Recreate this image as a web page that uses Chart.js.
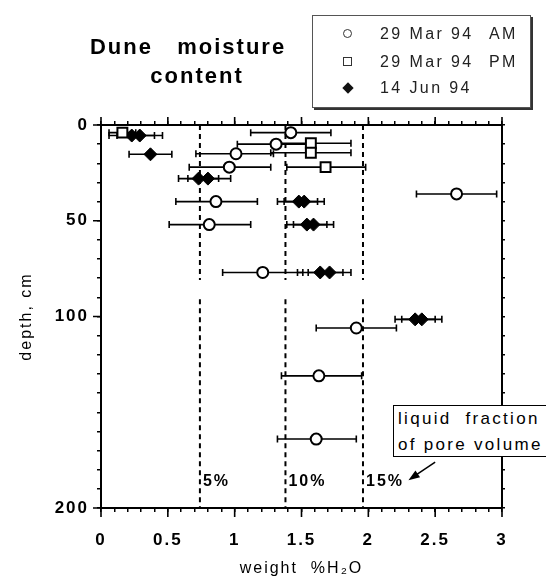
<!DOCTYPE html>
<html>
<head>
<meta charset="utf-8">
<script src="https://cdn.jsdelivr.net/npm/chart.js@4.4.1/dist/chart.umd.min.js"></script>
<style>
  html, body { margin: 0; padding: 0; background: #fff; }
  #wrap { position: relative; width: 546px; height: 579px; overflow: hidden; font-family: "Liberation Sans", Arial, sans-serif; color: #000; }
  #chart { position: absolute; left: 0; top: 0; }
  .title { position: absolute; font-weight: bold; font-size: 22px; letter-spacing: 2px; white-space: pre; transform: translate(-50%, -50%); }
  #legend { position: absolute; left: 312px; top: 15px; width: 217px; height: 91px; border: 1px solid #555; box-shadow: 2px 2px 0 #333; background: #fff; font-size: 16px; letter-spacing: 2.4px; color: #222; }
  #legend .row { position: absolute; left: 0; width: 100%; height: 20px; line-height: 20px; }
  #legend .txt { position: absolute; left: 67px; top: 0; white-space: pre; }
  #legend .ampm { position: absolute; left: 176px; top: 0; }
  .sym { position: absolute; left: 30px; top: 5px; width: 9px; height: 9px; box-sizing: border-box; }
  .sym.circle { border: 1.8px solid #333; border-radius: 50%; }
  .sym.square { border: 1.6px solid #333; }
  .sym.diamond { background: #111; transform: rotate(45deg); left: 31px; top: 6px; width: 8px; height: 8px; }
  #note { position: absolute; left: 393px; top: 405px; width: 170px; height: 50px; border: 1.6px solid #000; background: #fff; font-size: 17px; letter-spacing: 2.3px; line-height: 26px; padding-left: 4px; white-space: pre; }
</style>
</head>
<body>
<div id="wrap">
  <canvas id="chart" width="546" height="579"></canvas>
  <div class="title" style="left:188px; top:47px;">Dune   moisture</div>
  <div class="title" style="left:197px; top:76px;">content</div>
  <div id="legend">
    <div class="row" style="top:8px;"><span class="sym circle"></span><span class="txt">29 Mar 94</span><span class="ampm">AM</span></div>
    <div class="row" style="top:36px;"><span class="sym square"></span><span class="txt">29 Mar 94</span><span class="ampm">PM</span></div>
    <div class="row" style="top:62px;"><span class="sym diamond"></span><span class="txt">14 Jun 94</span></div>
  </div>
  <div id="note">liquid  fraction
of pore volume</div>
</div>
<script>
// 29 Mar 94 AM (open circles)
const amX = [1.42, 1.31, 1.01, 0.96, 2.66, 0.86, 0.81, 1.21, 1.91, 1.63, 1.61];
const amDepth = [4, 10, 15, 22, 36, 40, 52, 77, 106, 131, 164];
const amLo = [1.12, 1.02, 0.71, 0.66, 2.36, 0.56, 0.51, 0.91, 1.61, 1.35, 1.32];
const amHi = [1.72, 1.60, 1.29, 1.27, 2.96, 1.17, 1.12, 1.51, 2.21, 1.95, 1.91];

// 29 Mar 94 PM (open squares)
const pmX = [0.16, 1.57, 1.57, 1.68];
const pmDepth = [4, 9.5, 14.5, 22];
const pmLo = [0.06, 1.29, 1.27, 1.39];
const pmHi = [0.26, 1.87, 1.87, 1.98];

// 14 Jun 94 (filled diamonds)
const junX = [0.23, 0.29, 0.37, 0.73, 0.80, 1.48, 1.52, 1.54, 1.59, 1.64, 1.71, 2.35, 2.40];
const junDepth = [5.5, 5.5, 15.3, 28, 28, 40, 40, 52, 52, 77, 77, 101.5, 101.5];
const junLo = [0.06, 0.12, 0.21, 0.58, 0.65, 1.32, 1.37, 1.39, 1.44, 1.47, 1.55, 2.20, 2.25];
const junHi = [0.40, 0.46, 0.53, 0.88, 0.97, 1.62, 1.67, 1.69, 1.74, 1.81, 1.87, 2.50, 2.55];

// liquid fraction of pore volume lines
const poreX = [0.74, 1.38, 1.96];
const poreLabels = ["5%", "10%", "15%"];

const xLabelTicks = [0, 0.5, 1, 1.5, 2, 2.5, 3];
const depthLabelTicks = [0, 50, 100, 200];

const FONT = "'Liberation Sans', Arial, sans-serif";

function pts(xs, ys) {
    return xs.map((v, i) => ({ x: v, y: ys[i] }));
}

// 破線（途中に切れ目あり）
const poreSets = poreX.map((v) => ({
    type: "line",
    data: [{ x: v, y: 0 }, { x: v, y: 81 }, { x: v, y: null }, { x: v, y: 91 }, { x: v, y: 200 }],
    borderColor: "#000",
    borderWidth: 2,
    borderDash: [5, 4],
    pointRadius: 0,
    spanGaps: false,
}));

const errorBars = {
    id: "errorBars",
    beforeDatasetsDraw(chart) {
        const { ctx, scales } = chart;
        ctx.save();
        ctx.strokeStyle = "#000";
        ctx.lineWidth = 1.6;
        chart.data.datasets.forEach((ds) => {
            if (!ds.errLo) return;
            ds.data.forEach((p, i) => {
                const py = scales.y.getPixelForValue(p.y);
                const x1 = scales.x.getPixelForValue(ds.errLo[i]);
                const x2 = scales.x.getPixelForValue(ds.errHi[i]);
                ctx.beginPath();
                ctx.moveTo(x1, py);
                ctx.lineTo(x2, py);
                ctx.moveTo(x1, py - 3.5);
                ctx.lineTo(x1, py + 3.5);
                ctx.moveTo(x2, py - 3.5);
                ctx.lineTo(x2, py + 3.5);
                ctx.stroke();
            });
        });
        ctx.restore();
    },
};

const extras = {
    id: "extras",
    beforeDraw(chart) {
        chart.ctx.letterSpacing = "2px";
    },
    afterDraw(chart) {
        const { ctx, chartArea: a, scales } = chart;
        ctx.save();
        ctx.strokeStyle = "#000";
        ctx.lineWidth = 1.6;
        ctx.beginPath();
        // 長い目盛り
        xLabelTicks.forEach((v) => {
            const px = scales.x.getPixelForValue(v);
            ctx.moveTo(px, a.bottom);
            ctx.lineTo(px, a.bottom + 9);
            ctx.moveTo(px, a.top);
            ctx.lineTo(px, a.top - 8);
        });
        depthLabelTicks.forEach((v) => {
            const py = scales.y.getPixelForValue(v);
            ctx.moveTo(a.left, py);
            ctx.lineTo(a.left - 8, py);
        });
        ctx.stroke();

        // 5% / 10% / 15%
        ctx.fillStyle = "#000";
        ctx.font = "bold 16px " + FONT;
        ctx.textBaseline = "middle";
        ctx.textAlign = "left";
        poreX.forEach((v, i) => {
            ctx.fillText(poreLabels[i], scales.x.getPixelForValue(v) + 3, scales.y.getPixelForValue(186));
        });

        // arrow to the 15% label
        const tx = scales.x.getPixelForValue(2.3), ty = scales.y.getPixelForValue(185.5);
        const sx = scales.x.getPixelForValue(2.5), sy = scales.y.getPixelForValue(176);
        const ang = Math.atan2(ty - sy, tx - sx);
        ctx.beginPath();
        ctx.moveTo(sx, sy);
        ctx.lineTo(tx - 8 * Math.cos(ang), ty - 8 * Math.sin(ang));
        ctx.lineWidth = 1.5;
        ctx.stroke();
        ctx.beginPath();
        ctx.moveTo(tx, ty);
        ctx.lineTo(tx - 12 * Math.cos(ang - 0.35), ty - 12 * Math.sin(ang - 0.35));
        ctx.lineTo(tx - 12 * Math.cos(ang + 0.35), ty - 12 * Math.sin(ang + 0.35));
        ctx.closePath();
        ctx.fill();
        ctx.restore();
    },
};

const gridOpts = (len) => ({
    drawOnChartArea: false,
    drawTicks: true,
    tickLength: len,
    color: "#000",
    lineWidth: 1.5,
});
const borderOpts = { display: true, color: "#000", width: 2 };

new Chart(document.getElementById("chart").getContext("2d"), {
    type: "scatter",
    data: {
        datasets: [
            ...poreSets,
            {
                label: "29 Mar 94 AM",
                data: pts(amX, amDepth),
                errLo: amLo,
                errHi: amHi,
                pointStyle: "circle",
                pointRadius: 5.5,
                borderWidth: 2,
                borderColor: "#000",
                backgroundColor: "#fff",
            },
            {
                label: "29 Mar 94 PM",
                data: pts(pmX, pmDepth),
                errLo: pmLo,
                errHi: pmHi,
                pointStyle: "rect",
                pointRadius: 7,
                borderWidth: 2,
                borderColor: "#000",
                backgroundColor: "#fff",
            },
            {
                label: "14 Jun 94",
                data: pts(junX, junDepth),
                errLo: junLo,
                errHi: junHi,
                pointStyle: "rectRot",
                pointRadius: 6.5,
                borderWidth: 1,
                borderColor: "#000",
                backgroundColor: "#000",
            },
        ],
    },
    options: {
        responsive: false,
        animation: false,
        layout: { padding: 0 },
        plugins: { legend: { display: false }, tooltip: { enabled: false } },
        scales: {
            x: {
                type: "linear",
                position: "bottom",
                min: 0,
                max: 3,
                ticks: {
                    stepSize: 0.1,
                    autoSkip: false,
                    maxRotation: 0,
                    padding: 18,
                    color: "#000",
                    font: { family: FONT, size: 17, weight: "bold" },
                    callback: (v) => (xLabelTicks.some((t) => Math.abs(t - v) < 1e-6) ? String(Math.round(v * 10) / 10) : ""),
                },
                grid: gridOpts(4),
                border: borderOpts,
                title: {
                    display: true,
                    text: "weight  %H₂O",
                    color: "#000",
                    font: { family: FONT, size: 16 },
                    padding: { top: 0, bottom: 1 },
                },
                afterFit: (s) => { s.height = 71; },
            },
            x2: {
                type: "linear",
                position: "top",
                min: 0,
                max: 3,
                ticks: { stepSize: 0.1, autoSkip: false, display: false },
                grid: gridOpts(4),
                border: borderOpts,
                afterFit: (s) => { s.height = 125; },
            },
            y: {
                type: "linear",
                position: "left",
                reverse: true,
                min: 0,
                max: 200,
                ticks: {
                    stepSize: 10,
                    autoSkip: false,
                    padding: 8,
                    color: "#000",
                    font: { family: FONT, size: 17, weight: "bold" },
                    callback: (v) => (depthLabelTicks.includes(v) ? String(v) : ""),
                },
                grid: gridOpts(4),
                border: borderOpts,
                title: {
                    display: true,
                    text: "depth, cm",
                    color: "#000",
                    font: { family: FONT, size: 16 },
                    padding: { top: 17, bottom: 0 },
                },
                afterFit: (s) => { s.width = 101; },
            },
            y2: {
                type: "linear",
                position: "right",
                reverse: true,
                min: 0,
                max: 200,
                ticks: { stepSize: 10, autoSkip: false, display: false },
                grid: gridOpts(3),
                border: borderOpts,
                afterFit: (s) => { s.width = 44; },
            },
        },
    },
    plugins: [errorBars, extras],
});
</script>
</body>
</html>
